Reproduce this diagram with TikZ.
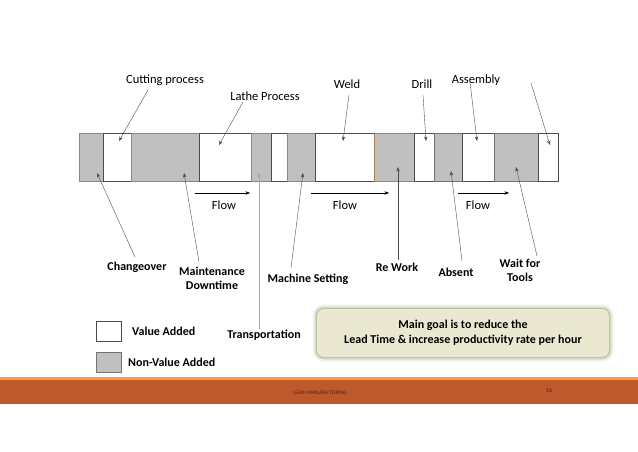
\documentclass[tikz,border=0pt]{standalone}
\usepackage{fontspec}
\setmainfont{Carlito}
\usepackage{tikz}
\usetikzlibrary{arrows.meta,positioning}
\definecolor{nvagray}{RGB}{192,192,192}
\definecolor{nvaline}{RGB}{168,128,88}
\definecolor{goalfill}{RGB}{234,232,209}
\definecolor{goalglow}{RGB}{150,170,120}
\definecolor{footbar}{RGB}{190,88,45}
\definecolor{footline}{RGB}{248,155,70}
\definecolor{foottext}{RGB}{85,35,15}
\tikzset{
  va/.style={rectangle, draw=black!70, fill=white, thin, inner sep=0pt, outer sep=0pt, anchor=north west},
  nva/.style={va, draw=nvaline, fill=nvagray},
  nvb/.style={va, draw=black!55, fill=nvagray},
  ptr/.style={-{Stealth[length=1.6mm, width=1.2mm]}, thin, black!70},
  flowarrow/.style={-{Stealth[length=1.6mm, width=1.2mm]}, thin, black},
  plain/.style={font=\fontsize{12.5}{14}\selectfont, align=center, inner sep=1pt},
  tag/.style={font=\fontsize{12}{14}\selectfont\bfseries, align=center, inner sep=1pt},
  goal/.style={rectangle, rounded corners=7pt, fill=goalfill,
               preaction={draw=goalglow, line width=9pt, opacity=0.15},
               preaction={draw=goalglow, line width=5pt, opacity=0.3},
               preaction={draw=goalglow, line width=2pt, opacity=0.5},
               minimum width=292pt, minimum height=48pt, align=center,
               font=\fontsize{12}{15}\selectfont\bfseries},
}

\begin{document}
\begin{tikzpicture}[x=1pt, y=-1pt]
\useasboundingbox (0,0) rectangle (638,452);

% process bar
\node[nva, minimum width=24pt, minimum height=48pt] (chg) at (79,133) {};
\node[va,  minimum width=28pt, minimum height=48pt] (cut) at (103,133) {};
\node[nva, minimum width=68pt, minimum height=48pt] (mnt) at (131,133) {};
\node[va,  minimum width=52pt, minimum height=48pt] (lathe) at (199,133) {};
\node[nva, minimum width=20pt, minimum height=48pt] (trn) at (251,133) {};
\node[va,  minimum width=16pt, minimum height=48pt] (gap1) at (271,133) {};
\node[nva, minimum width=28pt, minimum height=48pt] (mset) at (287,133) {};
\node[va,  minimum width=59pt, minimum height=48pt] (weld) at (315,133) {};
\node[nva, minimum width=40pt, minimum height=48pt] (rework) at (374,133) {};
\node[va,  minimum width=20pt, minimum height=48pt] (drill) at (414,133) {};
\node[nvb, minimum width=28pt, minimum height=48pt] (absent) at (434,133) {};
\node[va,  minimum width=32pt, minimum height=48pt] (asm) at (462,133) {};
\node[nvb, minimum width=44pt, minimum height=48pt] (wait) at (494,133) {};
\node[va,  minimum width=20pt, minimum height=48pt] (gap2) at (538,133) {};

% labels above
\node[plain] (cutlbl) at (165,80) {Cutting process};
\node[plain] (lathelbl) at (265,96) {Lathe Process};
\node[plain] (weldlbl) at (347,84) {Weld};
\node[plain] (drilllbl) at (422,84) {Drill};
\node[plain] (asmlbl) at (476,80) {Assembly};

% labels below
\node[tag] (chglbl) at (137,267) {Changeover};
\node[tag] (mntlbl) at (212,278) {Maintenance\\Downtime};
\node[tag] (trnlbl) at (264,335) {Transportation};
\node[tag] (msetlbl) at (308,279) {Machine Setting};
\node[tag] (reworklbl) at (397,267) {Re Work};
\node[tag] (absentlbl) at (456,272) {Absent};
\node[tag] (waitlbl) at (520,270) {Wait for\\Tools};

% arrow ends
\coordinate (cutT) at (148,90);   \coordinate (cutH) at (119,141);
\coordinate (latheT) at (243,102); \coordinate (latheH) at (219,145);
\coordinate (weldT) at (349,95);  \coordinate (weldH) at (343,141);
\coordinate (drillT) at (423,95); \coordinate (drillH) at (426,141);
\coordinate (asmT) at (470,82);   \coordinate (asmH) at (477,141);
\coordinate (lastT) at (531,83);  \coordinate (lastH) at (550,145);
\coordinate (chgT) at (135,257);  \coordinate (chgH) at (97,173);
\coordinate (mntT) at (199,262);  \coordinate (mntH) at (184,173);
\coordinate (trnT) at (259,329);  \coordinate (trnH) at (259,173);
\coordinate (msetT) at (291,268); \coordinate (msetH) at (303,173);
\coordinate (reworkT) at (398,260); \coordinate (reworkH) at (398,167);
\coordinate (absentT) at (462,261); \coordinate (absentH) at (451,171);
\coordinate (waitT) at (537,256); \coordinate (waitH) at (516,167);

\draw[ptr] (cutT) -- (cutH);
\draw[ptr] (latheT) -- (latheH);
\draw[ptr] (weldT) -- (weldH);
\draw[ptr] (drillT) -- (drillH);
\draw[ptr] (asmT) -- (asmH);
\draw[ptr] (lastT) -- (lastH);
\draw[ptr] (chgT) -- (chgH);
\draw[ptr] (mntT) -- (mntH);
\draw[ptr, black!35] (trnT) -- (trnH);
\draw[ptr] (msetT) -- (msetH);
\draw[ptr] (reworkT) -- (reworkH);
\draw[ptr] (absentT) -- (absentH);
\draw[ptr] (waitT) -- (waitH);

% flow
\coordinate (f1a) at (195,193); \coordinate (f1b) at (250,193);
\coordinate (f2a) at (311,193); \coordinate (f2b) at (389,193);
\coordinate (f3a) at (458,193); \coordinate (f3b) at (509,193);
\draw[flowarrow] (f1a) -- (f1b);
\draw[flowarrow] (f2a) -- (f2b);
\draw[flowarrow] (f3a) -- (f3b);
\node[plain] (flow1) at (224,205) {Flow};
\node[plain] (flow2) at (345,205) {Flow};
\node[plain] (flow3) at (478,205) {Flow};

% legend
\node[va, minimum width=25pt, minimum height=20pt] (keyva) at (96,321) {};
\node[nvb, minimum width=25pt, minimum height=20pt] (keynva) at (96,352) {};
\node[tag, right=10pt of keyva] (keyvalbl) {Value Added};
\node[tag, right=6pt of keynva] (keynvalbl) {Non-Value Added};

% goal
\node[goal] (goalbox) at (463,333) {Main goal is to reduce the\\Lead Time \& increase productivity rate per hour};

% footer
\fill[footline] (0,377) rectangle (638,380);
\fill[footbar] (0,380) rectangle (638,404);
\node[font=\fontsize{5.5}{6}\selectfont, text=foottext] (foot) at (320,393) {LEAN MANUFACTURING};
\node[font=\fontsize{6}{7}\selectfont, text=foottext] (page) at (549,390) {16};
\end{tikzpicture}
\end{document}
